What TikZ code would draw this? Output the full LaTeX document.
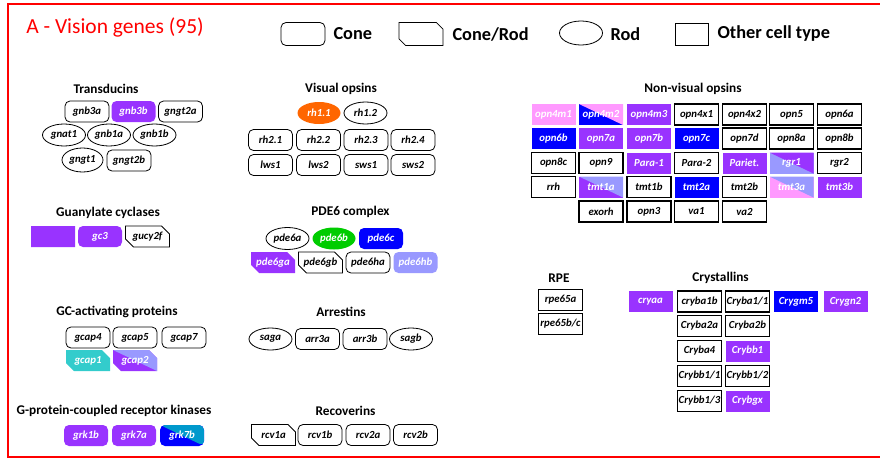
\documentclass[tikz,border=0pt]{standalone}
\usepackage{fontspec}
\setmainfont{Carlito}
\usetikzlibrary{shapes.geometric,shapes.misc}
\definecolor{vpurple}{HTML}{9933FF}
\definecolor{vblue}{HTML}{0000FF}
\definecolor{vpink}{HTML}{FF99FF}
\definecolor{vlilac}{HTML}{9999FF}
\definecolor{vorange}{HTML}{FF6600}
\definecolor{vgreen}{HTML}{00CC00}
\definecolor{vcyan}{HTML}{33CCCC}
\definecolor{vteal}{HTML}{0099CC}
\tikzset{
  gene/.style={minimum width=44pt, minimum height=21pt, inner sep=0pt,
    font=\fontsize{10.8}{12}\selectfont\bfseries\itshape},
  cone/.style={gene, rectangle, rounded corners=5pt, draw, line width=0.8pt},
  conerod/.style={gene, chamfered rectangle, chamfered rectangle corners={north east,south west},
    chamfered rectangle xsep=4pt, chamfered rectangle ysep=4pt, draw, line width=0.8pt},
  rod/.style={gene, ellipse, draw, line width=0.8pt, minimum width=43pt, minimum height=22pt},
  other/.style={gene, rectangle, draw, line width=1.3pt},
  colored/.style={fill=#1, draw=none, text=white},
  split/.style 2 args={fill=#1, draw=none, text=white,
    path picture={\fill[#2] (path picture bounding box.north west) -- (path picture bounding box.north east)
      -- (path picture bounding box.south east) -- cycle;}},
  group/.style={font=\fontsize{13.3}{15}\selectfont\bfseries},
  legend/.style={font=\fontsize{18.3}{20}\selectfont\bfseries, anchor=west}
}
\begin{document}
\begin{tikzpicture}[x=1pt,y=-1pt]
    \useasboundingbox (0,0) rectangle (880,460);
    \draw[red, line width=1.5pt] (880,4) -- (8,4) -- (8,457) -- (880,457);
    \node[text=red, font=\fontsize{21.5}{24}\selectfont] (title) at (115,27) {A - Vision genes (95)};

    % legend
    \node[draw, rounded corners=5pt, line width=0.8pt, minimum width=44pt, minimum height=23pt] (lcone) at (303,34) {};
    \node[legend] (tcone) at (330,34) {Cone};
    \node[draw, chamfered rectangle, chamfered rectangle corners={north east,south west}, chamfered rectangle xsep=4pt,
      chamfered rectangle ysep=4pt, line width=0.8pt, minimum width=44pt, minimum height=23pt] (lconerod) at (421,34) {};
    \node[legend] (tconerod) at (449,34) {Cone/Rod};
    \node[draw, ellipse, line width=0.8pt, minimum width=43pt, minimum height=24pt] (lrod) at (581,33) {};
    \node[legend] (trod) at (607,34) {Rod};
    \node[draw, line width=0.8pt, minimum width=33pt, minimum height=22pt] (lother) at (692,34) {};
    \node[legend] (tother) at (714,34) {Other cell type};

    % transducins
    \node[group] (transducins) at (106,89) {Transducins};
    \node[cone] (gnb3a) at (87,111.5) {gnb3a};
    \node[cone, colored=vpurple] (gnb3b) at (133.5,111.5) {gnb3b};
    \node[cone] (gngt2a) at (180.5,111.5) {gngt2a};
    \node[rod] (gnat1) at (64,135) {gnat1};
    \node[rod] (gnb1a) at (109,135) {gnb1a};
    \node[rod] (gnb1b) at (154.5,135) {gnb1b};
    \node[rod, minimum width=41pt, minimum height=24pt] (gngt1) at (82.5,160) {gngt1};
    \node[cone] (gngt2b) at (129,160.5) {gngt2b};

    % visual opsins
    \node[group] (visual) at (341,89) {Visual opsins};
    \node[rod, colored=vorange] (rh11) at (319,113) {rh1.1};
    \node[rod] (rh12) at (365.5,113) {rh1.2};
    \node[cone] (rh21) at (270.5,140) {rh2.1};
    \node[cone] (rh22) at (318.5,140) {rh2.2};
    \node[cone] (rh23) at (366,140) {rh2.3};
    \node[cone] (rh24) at (413,140) {rh2.4};
    \node[cone] (lws1) at (270.5,165) {lws1};
    \node[cone] (lws2) at (318.5,165) {lws2};
    \node[cone] (sws1) at (366,165) {sws1};
    \node[cone] (sws2) at (413,165) {sws2};

    % non-visual opsins
    \node[group] (nonvisual) at (693,89) {Non-visual opsins};
    \node[other, colored=vpink] (opn4m1) at (553.5,114.5) {opn4m1};
    \node[other, split={vblue}{vpink}] (opn4m2) at (601,114.5) {opn4m2};
    \node[other, colored=vpurple] (opn4m3) at (649,114.5) {opn4m3};
    \node[other] (opn4x1) at (696.5,114.5) {opn4x1};
    \node[other] (opn4x2) at (744.5,114.5) {opn4x2};
    \node[other] (opn5) at (791.5,114.5) {opn5};
    \node[other] (opn6a) at (839.5,114.5) {opn6a};
    \node[other, colored=vblue] (opn6b) at (553.5,138.5) {opn6b};
    \node[other, colored=vpurple] (opn7a) at (601,138.5) {opn7a};
    \node[other, colored=vpurple] (opn7b) at (649,138.5) {opn7b};
    \node[other, colored=vblue] (opn7c) at (696.5,138.5) {opn7c};
    \node[other] (opn7d) at (744.5,138.5) {opn7d};
    \node[other] (opn8a) at (791.5,138.5) {opn8a};
    \node[other] (opn8b) at (839.5,138.5) {opn8b};
    \node[other] (opn8c) at (553.5,163) {opn8c};
    \node[other] (opn9) at (601,163) {opn9};
    \node[other, colored=vpurple] (para1) at (649,163) {Para-1};
    \node[other] (para2) at (696.5,163) {Para-2};
    \node[other, colored=vpurple] (pariet) at (744.5,163) {Pariet.};
    \node[other, split={vlilac}{vpurple}] (rgr1) at (791.5,163) {rgr1};
    \node[other] (rgr2) at (839.5,163) {rgr2};
    \node[other] (rrh) at (553.5,187) {rrh};
    \node[other, split={vpurple}{vlilac}] (tmt1a) at (601,187) {tmt1a};
    \node[other] (tmt1b) at (649,187) {tmt1b};
    \node[other, colored=vblue] (tmt2a) at (696.5,187) {tmt2a};
    \node[other] (tmt2b) at (744.5,187) {tmt2b};
    \node[other, split={vpink}{vlilac}] (tmt3a) at (791.5,187) {tmt3a};
    \node[other, colored=vpurple] (tmt3b) at (839.5,187) {tmt3b};
    \node[other] (exorh) at (601,211.5) {exorh};
    \node[other] (opn3) at (649,211.5) {opn3};
    \node[other] (va1) at (696.5,211.5) {va1};
    \node[other] (va2) at (744.5,211.5) {va2};

    % guanylate cyclases
    \node[group] (cyclases) at (108,213) {Guanylate cyclases};
    \node[conerod, colored=vpurple] (gcblank) at (53,236.5) {};
    \node[cone, colored=vpurple] (gc3) at (100,236.5) {gc3};
    \node[conerod] (gucy2f) at (147.5,236.5) {gucy2f};

    % pde6
    \node[group] (pde) at (350.5,212) {PDE6 complex};
    \node[rod] (pde6a) at (287.5,238.5) {pde6a};
    \node[rod, colored=vgreen] (pde6b) at (334,238.5) {pde6b};
    \node[cone, colored=vblue] (pde6c) at (381,238.5) {pde6c};
    \node[conerod, colored=vpurple] (pde6ga) at (273,262.5) {pde6ga};
    \node[conerod] (pde6gb) at (320.5,262.5) {pde6gb};
    \node[cone] (pde6ha) at (368,262.5) {pde6ha};
    \node[cone, colored=vlilac] (pde6hb) at (415.5,262.5) {pde6hb};

    % gc-activating proteins
    \node[group] (gcap) at (117,312) {GC-activating proteins};
    \node[cone] (gcap4) at (88,337.5) {gcap4};
    \node[cone] (gcap5) at (135,337.5) {gcap5};
    \node[cone] (gcap7) at (184,337.5) {gcap7};
    \node[conerod, colored=vcyan] (gcap1) at (88,360.5) {gcap1};
    \node[conerod, split={vpurple}{vlilac}] (gcap2) at (135,360.5) {gcap2};

    % arrestins
    \node[group] (arrestins) at (341,312) {Arrestins};
    \node[rod] (saga) at (270.5,339) {saga};
    \node[cone] (arr3a) at (317.5,339) {arr3a};
    \node[cone] (arr3b) at (365,339) {arr3b};
    \node[rod] (sagb) at (411,339) {sagb};

    % receptor kinases
    \node[group] (grk) at (114,411) {G-protein-coupled receptor kinases};
    \node[cone, colored=vpurple] (grk1b) at (86,435.5) {grk1b};
    \node[cone, colored=vpurple] (grk7a) at (134,435.5) {grk7a};
    \node[cone, split={vblue}{vteal}] (grk7b) at (182,435.5) {grk7b};

    % recoverins
    \node[group] (recoverins) at (345.5,411) {Recoverins};
    \node[conerod] (rcv1a) at (273.5,435) {rcv1a};
    \node[cone] (rcv1b) at (320,435) {rcv1b};
    \node[cone] (rcv2a) at (368,435) {rcv2a};
    \node[cone] (rcv2b) at (415.5,435) {rcv2b};

    % rpe
    \node[group] (rpe) at (559,278) {RPE};
    \node[other] (rpe65a) at (560.5,300) {rpe65a};
    \node[other] (rpe65bc) at (560.5,324) {rpe65b/c};

    % crystallins
    \node[group] (crystallins) at (720.5,278) {Crystallins};
    \node[other, colored=vpurple] (cryaa) at (650.5,301.5) {cryaa};
    \node[other] (cryba1b) at (699.5,301.5) {cryba1b};
    \node[other] (cryba11) at (747.5,301.5) {Cryba1/1};
    \node[other, colored=vblue] (crygm5) at (796,301.5) {Crygm5};
    \node[other, colored=vpurple] (crygn2) at (845.5,301.5) {Crygn2};
    \node[other] (cryba2a) at (699.5,326) {Cryba2a};
    \node[other] (cryba2b) at (747.5,326) {Cryba2b};
    \node[other] (cryba4) at (699.5,351) {Cryba4};
    \node[other, colored=vpurple] (crybb1) at (747.5,351) {Crybb1};
    \node[other] (crybb11) at (699.5,376) {Crybb1/1};
    \node[other] (crybb12) at (747.5,376) {Crybb1/2};
    \node[other] (crybb13) at (699.5,401) {Crybb1/3};
    \node[other, colored=vpurple] (crybgx) at (747.5,401) {Crybgx};
\end{tikzpicture}
\end{document}
